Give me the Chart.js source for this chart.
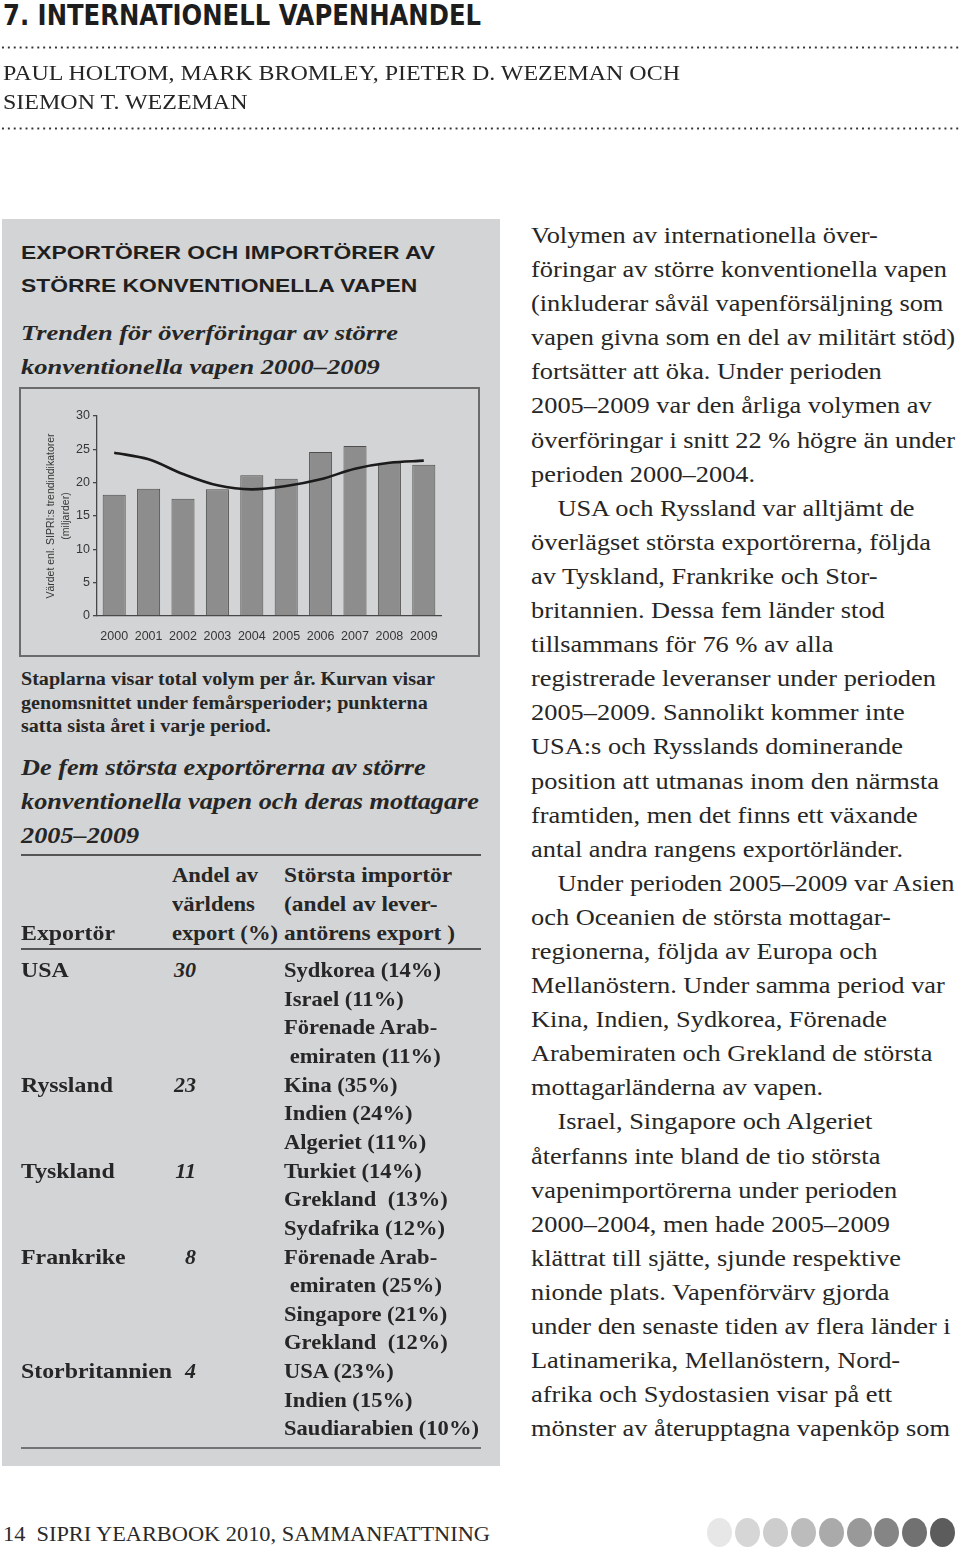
<!DOCTYPE html>
<html lang="sv"><head><meta charset="utf-8">
<script src="https://cdn.jsdelivr.net/npm/chart.js@4.4.1/dist/chart.umd.min.js"></script>
<style>
html,body{margin:0;padding:0;background:#fff;}
body{width:960px;height:1548px;position:relative;overflow:hidden;color:#231f20;font-family:"Liberation Serif",serif;}
.grp{position:absolute;transform-origin:0 0;white-space:nowrap;}
.ln{position:absolute;left:0;white-space:nowrap;}
.dots{position:absolute;left:0;width:960px;height:3px;background-image:radial-gradient(circle,#333 0.9px,transparent 1.3px);background-size:5.9px 3px;background-repeat:repeat-x;}
#panel{position:absolute;left:2px;top:219px;width:498px;height:1247px;background:#d3d4d5;}
#chartbox{position:absolute;left:19px;top:387px;width:461px;height:270px;border:2px solid #6b6b6b;box-sizing:border-box;}
#chartbox canvas{position:absolute;left:0;top:0;}
.rule{position:absolute;left:21px;width:460px;background:#555;}
.flow{position:absolute;white-space:nowrap;transform-origin:0 0;}
.flow div{white-space:nowrap;}
.dot{position:absolute;border-radius:50%;}
</style>
</head><body>

<!-- page title -->
<div class="grp" data-w="478" style="left:3px;top:0;font-family:'Liberation Sans Narrow','DejaVu Sans Condensed','Liberation Sans',sans-serif;font-weight:bold;font-size:29px;color:#1d1d1d;">
  <div class="ln ref" style="top:0;line-height:30px;"><span>7. INTERNATIONELL VAPENHANDEL</span></div>
</div>
<div class="dots" style="top:46px;"></div>
<div class="grp" data-w="677" style="left:3px;top:0;font-size:21px;color:#262626;">
  <div class="ln ref" style="top:58px;line-height:30px;"><span>PAUL HOLTOM, MARK BROMLEY, PIETER D. WEZEMAN OCH</span></div>
  <div class="ln" style="top:87px;line-height:30px;"><span>SIEMON T. WEZEMAN</span></div>
</div>
<div class="dots" style="top:127px;"></div>

<div id="panel"></div>

<!-- panel heading -->
<div class="grp" data-w="414" style="left:21px;top:0;font-family:'Liberation Sans',sans-serif;font-weight:bold;font-size:19px;color:#1f1f1f;">
  <div class="ln ref" style="top:238px;line-height:30px;"><span>EXPORTÖRER OCH IMPORTÖRER AV</span></div>
  <div class="ln" style="top:271px;line-height:30px;"><span>STÖRRE KONVENTIONELLA VAPEN</span></div>
</div>
<div class="grp" data-w="377" style="left:21px;top:0;font-style:italic;font-weight:bold;font-size:22px;color:#262626;">
  <div class="ln ref" style="top:316px;line-height:34px;"><span>Trenden för överföringar av större</span></div>
  <div class="ln" style="top:350px;line-height:34px;"><span>konventionella vapen 2000–2009</span></div>
</div>

<div id="chartbox"><canvas id="c" width="457" height="266"></canvas></div>

<div class="grp" data-w="414" style="left:21px;top:0;font-weight:bold;font-size:18px;color:#262626;">
  <div class="ln ref" style="top:667px;line-height:24px;"><span>Staplarna visar total volym per år. Kurvan visar</span></div>
  <div class="ln" style="top:690.5px;line-height:24px;"><span>genomsnittet under femårsperioder; punkterna</span></div>
  <div class="ln" style="top:714px;line-height:24px;"><span>satta sista året i varje period.</span></div>
</div>
<div class="grp" data-w="458" style="left:21px;top:0;font-style:italic;font-weight:bold;font-size:22.5px;color:#262626;">
  <div class="ln" style="top:751px;line-height:34px;"><span>De fem största exportörerna av större</span></div>
  <div class="ln ref" style="top:785px;line-height:34px;"><span>konventionella vapen och deras mottagare</span></div>
  <div class="ln" style="top:819px;line-height:34px;"><span>2005–2009</span></div>
</div>

<div class="rule" style="top:854px;height:1.6px;"></div>
<div class="rule" style="top:948px;height:1.6px;"></div>
<div class="rule" style="top:1447px;height:2.2px;background:#737373;"></div>

<!-- table headers -->
<div class="grp" data-w="106" style="left:172px;top:0;font-weight:bold;font-size:22px;color:#262626;">
  <div class="ln" style="top:860px;line-height:30px;"><span>Andel av</span></div>
  <div class="ln" style="top:889px;line-height:30px;"><span>världens</span></div>
  <div class="ln ref" style="top:918px;line-height:30px;"><span>export (%)</span></div>
</div>
<div class="grp" data-w="171" style="left:284px;top:0;font-weight:bold;font-size:22px;color:#262626;">
  <div class="ln" style="top:860px;line-height:30px;"><span>Största importör</span></div>
  <div class="ln" style="top:889px;line-height:30px;"><span>(andel av lever-</span></div>
  <div class="ln ref" style="top:918px;line-height:30px;"><span>antörens export )</span></div>
</div>
<div id="tbody"></div>

<!-- right column -->
<div class="flow" id="rightcol" style="left:531px;top:218px;font-size:24px;line-height:34.1px;color:#262626;">
<div>Volymen av internationella över-</div>
<div class="ref"><span>föringar av större konventionella vapen</span></div>
<div>(inkluderar såväl vapenförsäljning som</div>
<div>vapen givna som en del av militärt stöd)</div>
<div>fortsätter att öka. Under perioden</div>
<div>2005–2009 var den årliga volymen av</div>
<div>överföringar i snitt 22 % högre än under</div>
<div>perioden 2000–2004.</div>
<div style="padding-left:24px;">USA och Ryssland var alltjämt de</div>
<div>överlägset största exportörerna, följda</div>
<div>av Tyskland, Frankrike och Stor-</div>
<div>britannien. Dessa fem länder stod</div>
<div>tillsammans för 76 % av alla</div>
<div>registrerade leveranser under perioden</div>
<div>2005–2009. Sannolikt kommer inte</div>
<div>USA:s och Rysslands dominerande</div>
<div>position att utmanas inom den närmsta</div>
<div>framtiden, men det finns ett växande</div>
<div>antal andra rangens exportörländer.</div>
<div style="padding-left:24px;">Under perioden 2005–2009 var Asien</div>
<div>och Oceanien de största mottagar-</div>
<div>regionerna, följda av Europa och</div>
<div>Mellanöstern. Under samma period var</div>
<div>Kina, Indien, Sydkorea, Förenade</div>
<div>Arabemiraten och Grekland de största</div>
<div>mottagarländerna av vapen.</div>
<div style="padding-left:24px;">Israel, Singapore och Algeriet</div>
<div>återfanns inte bland de tio största</div>
<div>vapenimportörerna under perioden</div>
<div>2000–2004, men hade 2005–2009</div>
<div>klättrat till sjätte, sjunde respektive</div>
<div>nionde plats. Vapenförvärv gjorda</div>
<div>under den senaste tiden av flera länder i</div>
<div>Latinamerika, Mellanöstern, Nord-</div>
<div>afrika och Sydostasien visar på ett</div>
<div>mönster av återupptagna vapenköp som</div>
</div>

<!-- footer -->
<div class="grp" data-w="487" style="left:3px;top:0;font-size:20px;color:#2a2a2a;">
  <div class="ln ref" style="top:1519px;line-height:30px;"><span>14&nbsp;&nbsp;SIPRI YEARBOOK 2010, SAMMANFATTNING</span></div>
</div>
<div id="footdots"></div>

<script>
// ---- chart data ----
const years = ['2000','2001','2002','2003','2004','2005','2006','2007','2008','2009'];
const annualVolume = [18.2, 19.1, 17.6, 19.0, 21.1, 20.6, 24.6, 25.5, 23.0, 22.7];
const fiveYearAverage = [24.5, 23.5, 21.3, 19.6, 19.0, 19.5, 20.5, 22.1, 23.0, 23.3];
const yMin = 0, yMax = 30, yStep = 5;
const yTitle = ['Värdet enl. SIPRI:s trendindikatorer', '(miljarder)'];

// ---- table data ----
const exporterHeader = 'Exportör';
const exporters = ['USA', 'Ryssland', 'Tyskland', 'Frankrike', 'Storbritannien'];
const exportShare = ['30', '23', '11', '8', '4'];
const topImporters = [
  ['Sydkorea (14%)', 'Israel (11%)', 'Förenade Arab-', '\u00a0emiraten (11%)'],
  ['Kina (35%)', 'Indien (24%)', 'Algeriet (11%)'],
  ['Turkiet (14%)', 'Grekland\u00a0 (13%)', 'Sydafrika (12%)'],
  ['Förenade Arab-', '\u00a0emiraten (25%)', 'Singapore (21%)', 'Grekland\u00a0 (12%)'],
  ['USA (23%)', 'Indien (15%)', 'Saudiarabien (10%)']
];
const dotShades = ['#e7e7e7','#d6d6d6','#cdcdcd','#bcbcbc','#aaaaaa','#999999','#858585','#717171','#5c5c5c'];

// ---- build table ----
(function(){
  const tb = document.getElementById('tbody');
  const lh = 28.65, first = 970;
  const c1 = document.createElement('div'); c1.className='grp'; c1.dataset.w='151';
  c1.style.cssText="left:21px;top:0;font-weight:bold;font-size:22px;color:#262626;";
  const h = document.createElement('div'); h.className='ln'; h.style.cssText='top:918px;line-height:30px;';
  h.innerHTML='<span></span>'; h.firstChild.textContent=exporterHeader; c1.appendChild(h);
  const c2 = document.createElement('div'); c2.className='grp';
  c2.style.cssText="left:150px;top:0;width:46px;font-weight:bold;font-style:italic;font-size:22px;color:#262626;";
  const c3 = document.createElement('div'); c3.className='grp'; c3.dataset.w='195';
  c3.style.cssText="left:284px;top:0;font-weight:bold;font-size:22px;color:#262626;";
  let k = 0;
  exporters.forEach((ex,i)=>{
    const y = first + k*lh - 15;
    const a = document.createElement('div'); a.className='ln'; a.style.cssText='top:'+y+'px;line-height:30px;';
    a.innerHTML='<span></span>'; a.firstChild.textContent=ex; if(ex==='Storbritannien') a.classList.add('ref'); c1.appendChild(a);
    const b = document.createElement('div'); b.className='ln'; b.style.cssText='top:'+y+'px;line-height:30px;width:46px;text-align:right;';
    b.textContent=exportShare[i]; c2.appendChild(b);
    topImporters[i].forEach(t=>{
      const d = document.createElement('div'); d.className='ln'; d.style.cssText='top:'+(first+k*lh-15)+'px;line-height:30px;';
      d.innerHTML='<span></span>'; d.firstChild.textContent=t; if(t.startsWith('Saudi')) d.classList.add('ref'); c3.appendChild(d);
      k++;
    });
  });
  tb.appendChild(c1); tb.appendChild(c2); tb.appendChild(c3);
  const fd = document.getElementById('footdots');
  dotShades.forEach((c,i)=>{
    const d=document.createElement('div'); d.className='dot';
    d.style.cssText='left:'+(707+i*27.9)+'px;top:1518px;width:25px;height:29px;background:'+c+';';
    fd.appendChild(d);
  });
})();

// ---- fit text widths ----
document.querySelectorAll('.grp[data-w]').forEach(g=>{
  const r = g.querySelector('.ref span') || g.querySelector('span');
  const w = r.getBoundingClientRect().width;
  if (w>0) g.style.transform = 'scaleX(' + (parseFloat(g.dataset.w)/w) + ')';
});
(function(){
  const rc = document.getElementById('rightcol');
  const w = rc.querySelector('.ref span').getBoundingClientRect().width;
  rc.style.transform = 'scaleX(' + (416/w) + ')';
})();

// ---- chart ----
const axisColor = '#474747';
new Chart(document.getElementById('c'), {
  data: {
    labels: years,
    datasets: [
      { type:'line', data: fiveYearAverage, borderColor:'#1b1b1b', borderWidth:2.6, pointRadius:0, tension:0.4, cubicInterpolationMode:'monotone', fill:false, order:0 },
      { type:'bar', data: annualVolume, backgroundColor:'#8d8d8d', borderColor:'#4e4e4e', borderWidth:1, barPercentage:0.67, categoryPercentage:1, order:1 }
    ]
  },
  options: {
    responsive:false, animation:false, devicePixelRatio:1,
    layout:{ padding:{ left:0, right:37, top:27, bottom:0 } },
    plugins:{ legend:{display:false}, tooltip:{enabled:false} },
    scales:{
      x:{ offset:true,
          grid:{ display:false },
          border:{ display:true, color:axisColor, width:1.3 },
          ticks:{ color:'#363636', font:{ family:'Liberation Sans', size:12.5 }, padding:5, maxRotation:0, autoSkip:false },
          afterFit(s){ s.height = 39; } },
      y:{ min:yMin, max:yMax,
          ticks:{ stepSize:yStep, color:'#363636', font:{ family:'Liberation Sans', size:12.5 }, padding:3 },
          grid:{ display:true, drawOnChartArea:false, drawTicks:true, tickLength:4, color:axisColor, lineWidth:1.3 },
          border:{ display:true, color:axisColor, width:1.3 },
          title:{ display:true, text:yTitle, color:'#363636', font:{ family:'Liberation Sans', size:10.5, lineHeight:1.45 }, padding:{ top:22, bottom:0 } },
          afterFit(s){ s.width = 76; } }
    }
  }
});
</script>
</body></html>
